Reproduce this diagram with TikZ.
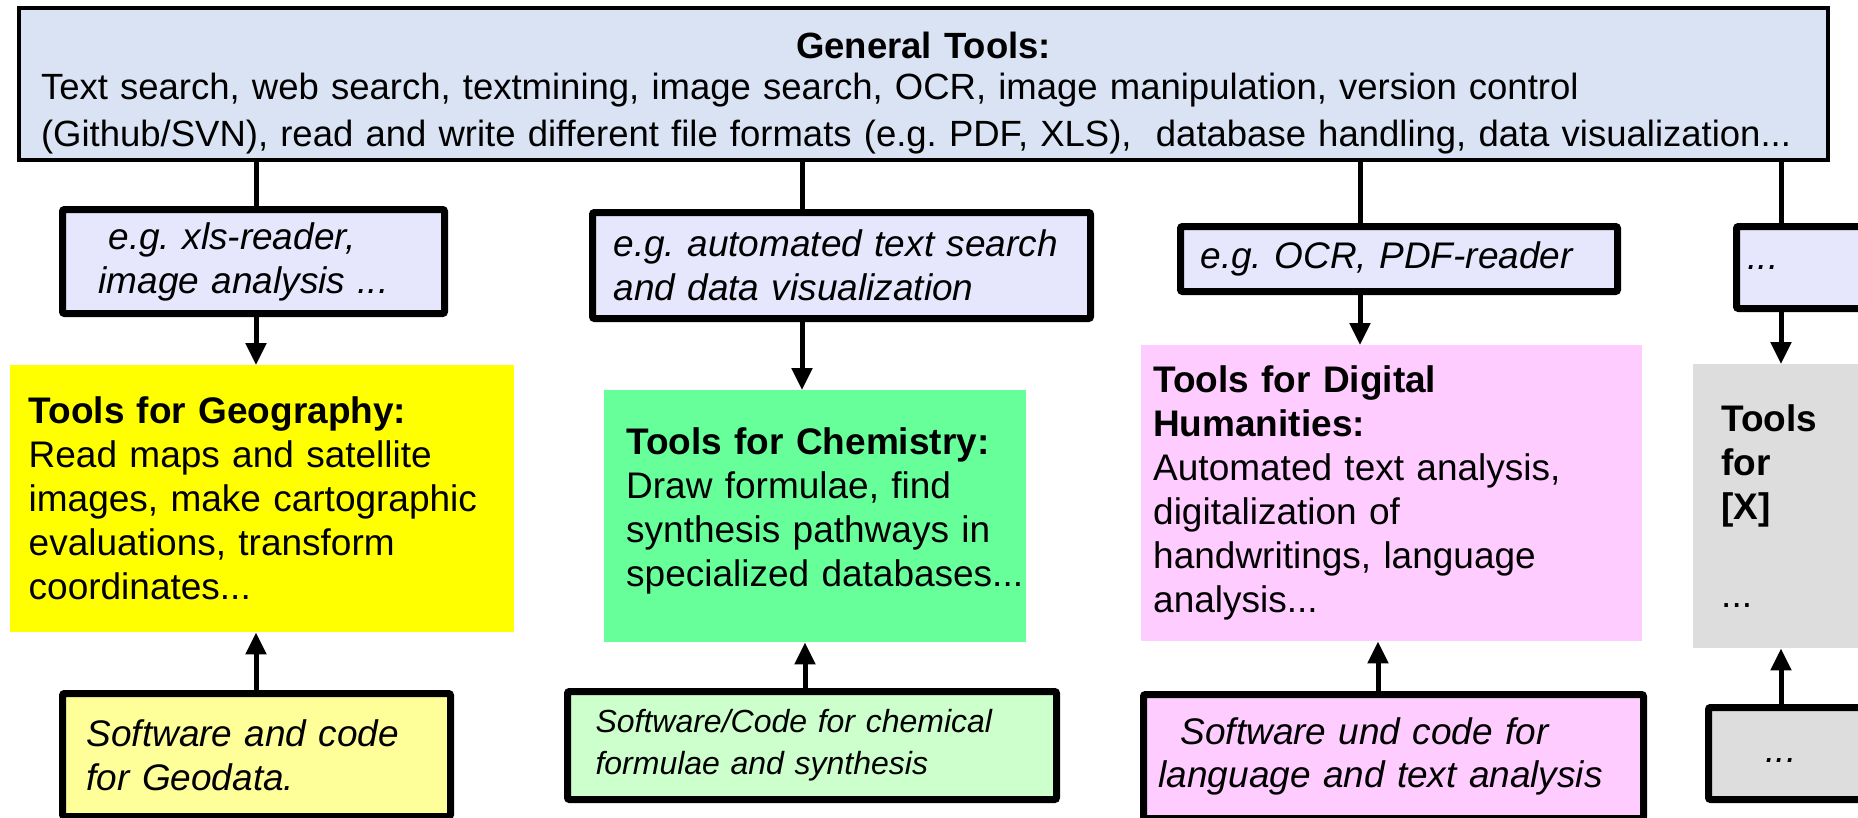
\documentclass[tikz,border=0pt]{standalone}
\usepackage{fontspec}
\setmainfont{Liberation Sans}
\usetikzlibrary{arrows.meta,calc}
\definecolor{topblue}{RGB}{218,227,243}
\definecolor{egblue}{RGB}{230,230,252}
\definecolor{geoy}{RGB}{255,255,0}
\definecolor{chemg}{RGB}{102,255,153}
\definecolor{dhp}{RGB}{255,204,255}
\definecolor{grayx}{RGB}{221,221,221}
\definecolor{swy}{RGB}{255,255,153}
\definecolor{swg}{RGB}{204,255,204}
\frenchspacing
\tikzset{
  egbox/.style={draw=black, line width=7pt, fill=egblue, rounded corners=2pt, anchor=north west, align=left, inner ysep=0pt, font=\itshape\fontsize{37}{44}\selectfont},
  toolbox/.style={fill=#1, anchor=north west, align=left, inner ysep=0pt, font=\fontsize{37}{44}\selectfont},
  swbox/.style={draw=black, line width=7pt, fill=#1, rounded corners=2pt, anchor=north west, align=left, inner ysep=0pt, font=\itshape\fontsize{37}{44}\selectfont},
  link/.style={line width=5pt},
  arr/.style={line width=5pt, -{Triangle[width=20pt,length=22pt]}},
}
\begin{document}
\begin{tikzpicture}[x=1pt,y=-1pt]
\useasboundingbox (0,0) rectangle (1858,817);
\clip (0,0) rectangle (1858,817);
% top box
\node[draw=black, line width=4pt, fill=topblue, anchor=north west, align=left, inner xsep=22pt, inner ysep=0pt,
      text width=1765pt, minimum height=152pt, font=\fontsize{36.5}{47}\selectfont] (top) at (17,6)
  {\rule{0pt}{45pt}\makebox[\linewidth][c]{\textbf{General Tools:}}\\[-6pt]
   \mbox{Text search, web search, textmining, image search, OCR, image manipulation, version control}\\
   \mbox{(Github/SVN), read and write different file formats (e.g. PDF, XLS),\ \ database handling, data visualization...}};
% column coordinates
\coordinate (c1) at (256,0);
\coordinate (c2) at (802,0);
\coordinate (c2b) at (805,0);
\coordinate (c3) at (1360,0);
\coordinate (c3b) at (1378,0);
\coordinate (c4) at (1781,0);
% e.g. boxes
\node[egbox, inner xsep=36pt, text width=310pt, minimum height=104pt] (eg1) at (59,206)
  {\hspace*{10pt}e.g. xls-reader,\\image analysis ...};
\node[egbox, inner xsep=21pt, text width=456pt, minimum height=106pt] (eg2) at (589,209)
  {e.g. automated text search\\and data visualization};
\node[egbox, inner xsep=20pt, text width=397pt, minimum height=65pt] (eg3) at (1177,223)
  {e.g. OCR, PDF-reader};
\node[egbox, inner xsep=11pt, text width=145pt, minimum height=82pt] (eg4) at (1733,223)
  {...};
% tool boxes
\node[toolbox=geoy, inner xsep=19pt, text width=466pt, minimum height=267pt] (geo) at (9.5,365)
  {\textbf{Tools for Geography:}\\Read maps and satellite\\\mbox{images, make cartographic}\\evaluations, transform\\coordinates...};
\node[toolbox=chemg, inner xsep=22pt, text width=378pt, minimum height=252pt] (chem) at (604,390)
  {\textbf{Tools for Chemistry:}\\Draw formulae, find\\synthesis pathways in\\\mbox{specialized databases...}\rule[-18pt]{0pt}{18pt}};
\node[toolbox=dhp, inner xsep=12pt, text width=477pt, minimum height=296pt] (dh) at (1141,345)
  {\textbf{Tools for Digital}\\\textbf{Humanities:}\\Automated text analysis,\\digitalization of\\handwritings, language\\analysis...};
\node[toolbox=grayx, inner xsep=28pt, text width=151pt, minimum height=284pt] (gx) at (1693,364)
  {\textbf{Tools}\\\textbf{for}\\\textbf{[X]}\\\mbox{}\\...};
% software boxes
\node[swbox=swy, inner xsep=24pt, text width=340pt, minimum height=123pt] (sw1) at (59,690)
  {Software and code\\for Geodata.};
\node[swbox=swg, inner xsep=28pt, text width=433pt, minimum height=108pt, font=\itshape\fontsize{32}{42}\selectfont] (sw2) at (564,688)
  {Software/Code for chemical\\formulae and synthesis};
\node[swbox=dhp, inner xsep=15pt, text width=470pt, minimum height=124pt, font=\itshape\fontsize{37}{43}\selectfont] (sw3) at (1140,691)
  {\hspace*{22pt}Software und code for\\language and text analysis};
\node[swbox=grayx, inner xsep=15pt, text width=165pt, minimum height=92pt] (sw4) at (1705,704)
  {\hspace*{42pt}\raisebox{-18pt}{...}};
% connectors from top box
\draw[link] (top.south -| c1) -- (eg1.north -| c1);
\draw[link] (top.south -| c2) -- (eg2.north -| c2);
\draw[link] (top.south -| c3) -- (eg3.north -| c3);
\draw[link] (top.south -| c4) -- (eg4.north -| c4);
% arrows down
\draw[arr] (eg1.south -| c1) -- (geo.north -| c1);
\draw[arr] (eg2.south -| c2) -- (chem.north -| c2);
\draw[arr] (eg3.south -| c3) -- (dh.north -| c3);
\draw[arr] (eg4.south -| c4) -- (gx.north -| c4);
% arrows up
\draw[arr] (sw1.north -| c1) -- (geo.south -| c1);
\draw[arr] (sw2.north -| c2b) -- (chem.south -| c2b);
\draw[arr] (sw3.north -| c3b) -- (dh.south -| c3b);
\draw[arr] (sw4.north -| c4) -- (gx.south -| c4);
\end{tikzpicture}
\end{document}
